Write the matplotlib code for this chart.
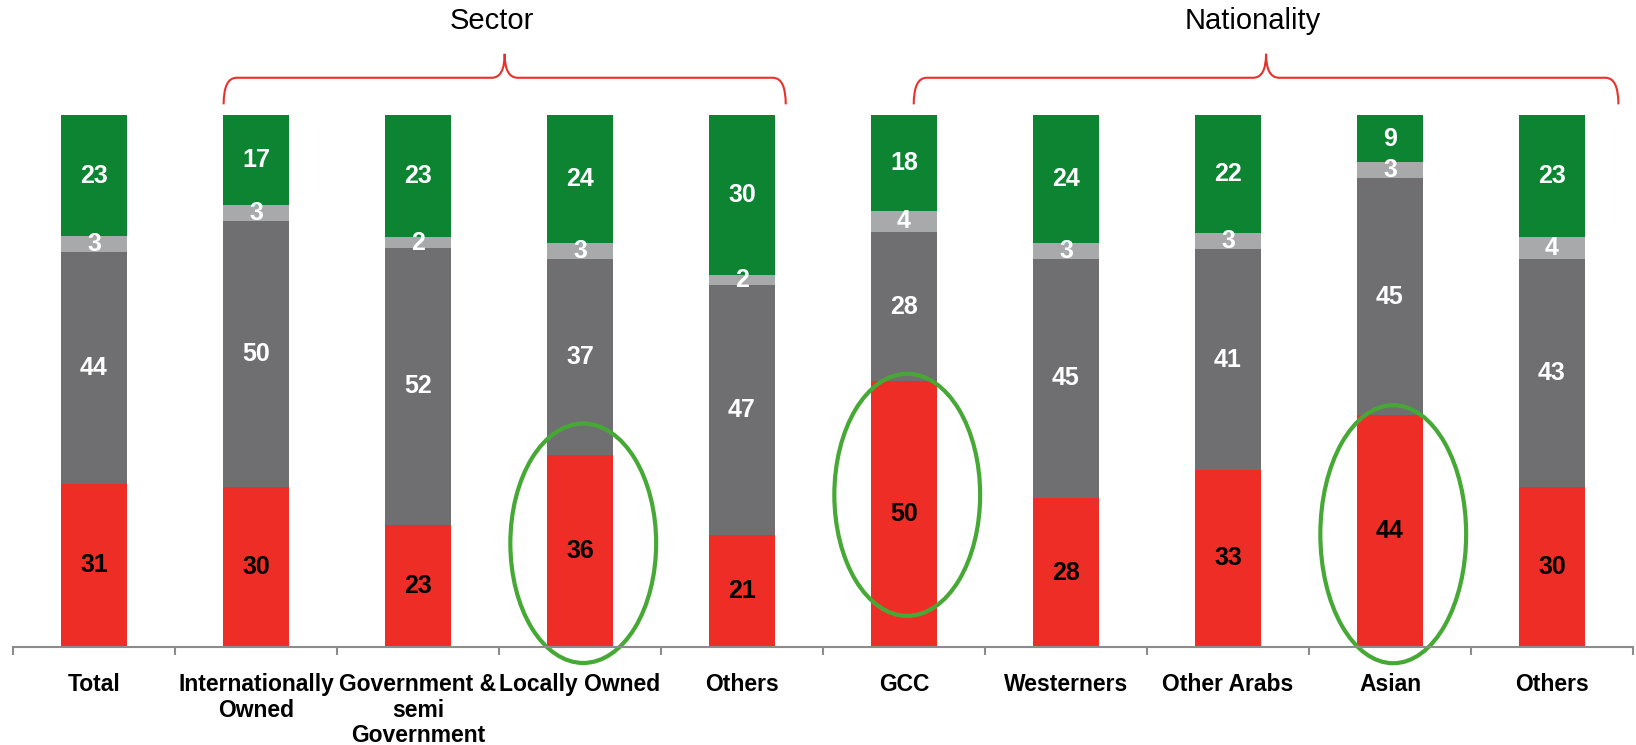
import matplotlib
matplotlib.use("Agg")
import matplotlib.pyplot as plt
import numpy as np
from matplotlib.patches import Ellipse, PathPatch
from matplotlib.path import Path

categories = ["Total", "Internationally\nOwned", "Government &\nsemi\nGovernment",
              "Locally Owned", "Others", "GCC", "Westerners", "Other Arabs",
              "Asian", "Others"]
red_vals = [31, 30, 23, 36, 21, 50, 28, 33, 44, 30]
dark_vals = [44, 50, 52, 37, 47, 28, 45, 41, 45, 43]
light_vals = [3, 3, 2, 3, 2, 4, 3, 3, 3, 4]
green_vals = [23, 17, 23, 24, 30, 18, 24, 22, 9, 23]

# circled bars: (bar index, centre y, height) in percent units
highlights = [(3, 19.5, 45), (5, 28.6, 45.5), (8, 21.2, 48.5)]

plt.rcParams['font.family'] = ['Liberation Sans', 'DejaVu Sans']

colors = ['#EE2D27', '#6F6F71', '#A8A9AB', '#0C8431']
label_colors = ['black', 'white', 'white', 'white']

series = np.array([red_vals, dark_vals, light_vals, green_vals], dtype=float)
shares = series / series.sum(axis=0) * 100  # bars in the original all reach the top

fig = plt.figure(figsize=(16.36, 7.45), dpi=100)
ax = fig.add_axes([13 / 1636, 98 / 745, 1620 / 1636, 532 / 745])

x = np.arange(len(categories))
bottom = np.zeros(len(categories))
for i in range(4):
    ax.bar(x, shares[i], 0.41, bottom=bottom, color=colors[i], linewidth=0)
    for j in range(len(categories)):
        ax.text(x[j], bottom[j] + shares[i][j] / 2, str(int(series[i][j])),
                ha='center', va='center', fontsize=18, fontweight='bold',
                color=label_colors[i])
    bottom += shares[i]

# green circles around the highlighted red segments
for j, yc, h in highlights:
    ax.add_patch(Ellipse((x[j] + 0.02, yc), 0.9, h,
                         fill=False, edgecolor='#47A935', lw=3, clip_on=False))


def bracket(x0, x1, label):
    xm = (x0 + x1) / 2
    yl, ym, yt = 102, 107, 111.5
    verts = [(x0, yl), (x0, ym), (x0 + 0.08, ym),
             (xm - 0.08, ym), (xm, ym), (xm, yt),
             (xm, ym), (xm + 0.08, ym),
             (x1 - 0.08, ym), (x1, ym), (x1, yl)]
    codes = [Path.MOVETO, Path.CURVE3, Path.CURVE3,
             Path.LINETO, Path.CURVE3, Path.CURVE3,
             Path.CURVE3, Path.CURVE3,
             Path.LINETO, Path.CURVE3, Path.CURVE3]
    ax.add_patch(PathPatch(Path(verts, codes), fill=False, edgecolor='#E8312A',
                           lw=1.5, clip_on=False))
    ax.text(xm - 0.08, 117.7, label, ha='center', va='center', fontsize=21)


bracket(0.80, 4.27, "Sector")
bracket(5.06, 9.41, "Nationality")

ax.set_xlim(-0.5, len(categories) - 0.5)
ax.set_ylim(0, 100)
for s in ['top', 'right', 'left']:
    ax.spines[s].set_visible(False)
ax.spines['bottom'].set_color('#8C8C8C')
ax.spines['bottom'].set_linewidth(1.5)
ax.set_yticks([])

ax.set_xticks(np.arange(-0.5, len(categories), 1.0))
ax.set_xticklabels([])
ax.tick_params(axis='x', which='major', length=6, width=1.5, color='#8C8C8C')
ax.set_xticks(x, minor=True)
ax.set_xticklabels(categories, minor=True, fontsize=16.5, fontweight='bold',
                   linespacing=1.12)
ax.tick_params(axis='x', which='minor', length=0, pad=19)

fig.savefig("out.png", dpi=100)
